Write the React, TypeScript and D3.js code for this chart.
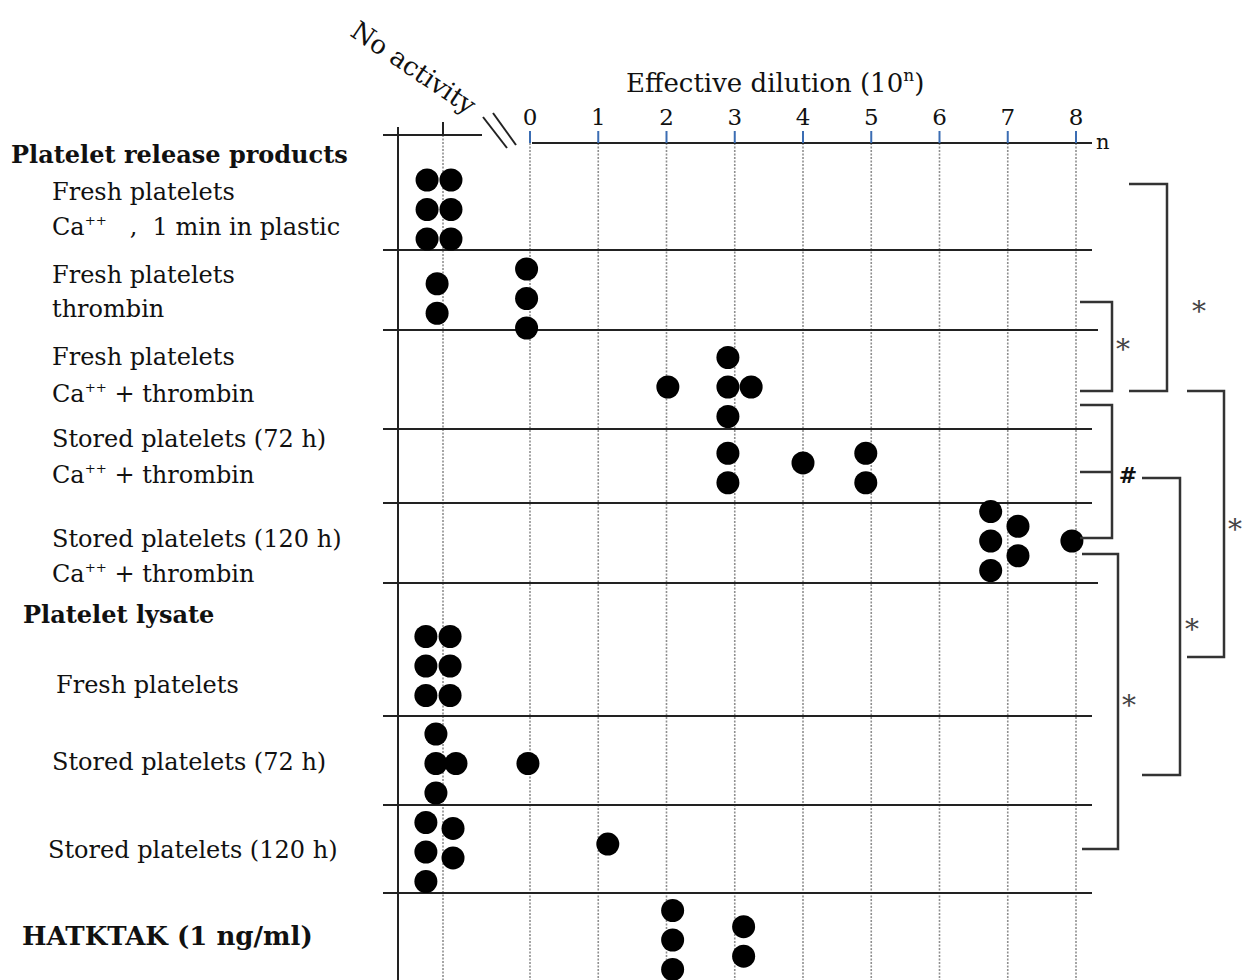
import React from "react";
import * as d3 from "d3";

// ---------- DATA ----------
const groupLabels = ["Platelet release products", "Platelet lysate", "HATKTAK (1 ng/ml)"];

const rowLabels: string[][] = [
  ["Fresh platelets", "Ca^++   ,  1 min in plastic"],
  ["Fresh platelets", "thrombin"],
  ["Fresh platelets", "Ca^++ + thrombin"],
  ["Stored platelets (72 h)", "Ca^++ + thrombin"],
  ["Stored platelets (120 h)", "Ca^++ + thrombin"],
  ["Fresh platelets"],
  ["Stored platelets (72 h)"],
  ["Stored platelets (120 h)"],
];

const tickValues = [0, 1, 2, 3, 4, 5, 6, 7, 8];

// No-activity dots: [row, horizontal jitter (dot pitches), vertical level]
const noActivityDots: [number, number, number][] = [
  [0, -0.54, -1], [0, -0.54, 0], [0, -0.54, 1],
  [0, 0.27, -1], [0, 0.27, 0], [0, 0.27, 1],
  [1, -0.2, -0.5], [1, -0.2, 0.5],
  [5, -0.58, -1], [5, -0.58, 0], [5, -0.58, 1],
  [5, 0.24, -1], [5, 0.24, 0], [5, 0.24, 1],
  [6, -0.24, -1], [6, -0.24, 0], [6, -0.24, 1], [6, 0.44, 0],
  [7, -0.58, -1], [7, -0.58, 0], [7, -0.58, 1],
  [7, 0.34, -0.8], [7, 0.34, 0.2],
];

// Effective dilution dots: [row, n (log10 dilution), vertical level]
const dilutionDots: [number, number, number][] = [
  [1, -0.05, -1], [1, -0.05, 0], [1, -0.05, 1],
  [2, 2.02, 0], [2, 2.9, -1], [2, 2.9, 0], [2, 2.9, 1], [2, 3.24, 0],
  [3, 2.9, -0.5], [3, 2.9, 0.5], [3, 4.0, -0.17], [3, 4.92, -0.5], [3, 4.92, 0.5],
  [4, 6.75, -1], [4, 6.75, 0], [4, 6.75, 1], [4, 7.15, -0.5], [4, 7.15, 0.5], [4, 7.94, 0],
  [6, -0.03, 0],
  [7, 1.14, -0.27],
  [8, 2.09, -1], [8, 2.09, 0], [8, 2.09, 1], [8, 3.13, -0.45], [8, 3.13, 0.55],
];

// Significance brackets: label
const bracketLabels = ["*", "*", "*", "#", "*", "*"];

// ---------- LAYOUT ----------
const W = 1244;
const H = 980;
const rowCenters = [209.5, 298.5, 387, 468, 541, 666, 763.5, 852, 940];
const separators = [
  { y: 250, x2: 1092 }, { y: 330, x2: 1098 }, { y: 429, x2: 1092 }, { y: 503, x2: 1092 },
  { y: 583, x2: 1098 }, { y: 716, x2: 1092 }, { y: 805, x2: 1092 }, { y: 893, x2: 1092 },
];
const rowLabelLayout = [
  { x: 52, ys: [200, 235] }, { x: 52, ys: [283, 317] }, { x: 52, ys: [365, 402] },
  { x: 52, ys: [447, 483] }, { x: 52, ys: [547, 582] }, { x: 56, ys: [693] },
  { x: 52, ys: [770] }, { x: 48, ys: [858] },
];
const groupLayout = [
  { x: 11, y: 163, size: 24 },
  { x: 23, y: 623, size: 24 },
  { x: 22, y: 945, size: 26 },
];
const bracketLayout = [
  { x0: 1129, x1: 1167, y0: 184, y1: 391, lx: 1199, ly: 304 },
  { x0: 1080, x1: 1112, y0: 302, y1: 391, lx: 1123, ly: 342 },
  { x0: 1187, x1: 1224, y0: 391, y1: 657, lx: 1235, ly: 522 },
  { x0: 1080, x1: 1112, y0: 405, y1: 538, lx: 1128, ly: 475, mid: 472 },
  { x0: 1142, x1: 1180, y0: 478, y1: 775, lx: 1192, ly: 622 },
  { x0: 1082, x1: 1118, y0: 554, y1: 849, lx: 1129, ly: 698 },
];

const FONT = "'DejaVu Serif', 'Liberation Serif', serif";
const axisY = 143;
const naAxisY = 135;
const naX = 443;
const pitch = 29.5;
const dotR = 11.5;

const x = d3.scaleLinear().domain([0, 8]).range([530, 1076]);
const xNA = d3.scaleLinear().domain([-1, 1]).range([naX - pitch, naX + pitch]);
const yLevel = d3.scaleLinear().domain([-1, 1]).range([-pitch, pitch]);

function RichText({ s, x, y, size, bold }: { s: string; x: number; y: number; size: number; bold?: boolean }) {
  const parts = s.split("^++");
  return (
    <text
      x={x}
      y={y}
      fontFamily={FONT}
      fontSize={size}
      fontWeight={bold ? "bold" : "normal"}
      fill="#111"
      style={{ whiteSpace: "pre" }}
    >
      {parts.map((p, i) => (
        <React.Fragment key={i}>
          {i > 0 && (
            <tspan dy={-10} fontSize={size * 0.55}>++</tspan>
          )}
          {i > 0 ? <tspan dy={10}>{p}</tspan> : p}
        </React.Fragment>
      ))}
    </text>
  );
}

export default function App() {
  return (
    <svg width={W} height={H} style={{ position: "absolute", left: 0, top: 0, background: "#fff" }}>
      <rect width={W} height={H} fill="#fff" />
      {/* Dotted gridlines */}
      {tickValues.map((t) => (
        <line key={"g" + t} x1={x(t)} x2={x(t)} y1={axisY} y2={H} stroke="#8f8f8f" strokeWidth={1.6} strokeDasharray="2,1.5" />
      ))}
      <line x1={naX} x2={naX} y1={naAxisY} y2={H} stroke="#8f8f8f" strokeWidth={1.6} strokeDasharray="2,1.5" />

      {/* Row separators */}
      {separators.map((s, i) => (
        <line key={"s" + i} x1={383} x2={s.x2} y1={s.y} y2={s.y} stroke="#222" strokeWidth={2} />
      ))}

      {/* No activity axis */}
      <line x1={383} x2={482} y1={naAxisY} y2={naAxisY} stroke="#222" strokeWidth={2} />
      <line x1={naX} x2={naX} y1={122} y2={naAxisY} stroke="#222" strokeWidth={2} />
      <line x1={398} x2={398} y1={127} y2={H} stroke="#222" strokeWidth={2} />
      <line x1={483} y1={117} x2={507} y2={148} stroke="#222" strokeWidth={2} />
      <line x1={493} y1={113} x2={516} y2={145} stroke="#222" strokeWidth={2} />
      <text transform={`translate(349,35) rotate(34)`} fontFamily={FONT} fontSize={26} fill="#111">No activity</text>

      {/* Main axis */}
      <line x1={x(0) + 2} x2={1092} y1={axisY} y2={axisY} stroke="#222" strokeWidth={2} />
      {tickValues.map((t) => (
        <g key={"t" + t}>
          <line x1={x(t)} x2={x(t)} y1={131} y2={axisY} stroke="#3b6db3" strokeWidth={2} />
          <text x={x(t)} y={125} textAnchor="middle" fontFamily={FONT} fontSize={23} fill="#111">{t}</text>
        </g>
      ))}
      <text x={1096} y={149} fontFamily={FONT} fontSize={21} fill="#111">n</text>
      <text x={626} y={92} fontFamily={FONT} fontSize={26} fill="#111">
        Effective dilution (10<tspan dy={-11} fontSize={17}>n</tspan><tspan dy={11}>)</tspan>
      </text>

      {/* Labels */}
      {groupLabels.map((g, i) => (
        <RichText key={"gl" + i} s={g} x={groupLayout[i].x} y={groupLayout[i].y} size={groupLayout[i].size} bold />
      ))}
      {rowLabels.map((lines, i) =>
        lines.map((l, j) => (
          <RichText key={"rl" + i + "-" + j} s={l} x={rowLabelLayout[i].x} y={rowLabelLayout[i].ys[j]} size={24} />
        ))
      )}

      {/* Dots */}
      {noActivityDots.map(([r, dx, lv], i) => (
        <circle key={"na" + i} cx={xNA(dx)} cy={rowCenters[r] + yLevel(lv)} r={dotR} fill="#000" />
      ))}
      {dilutionDots.map(([r, n, lv], i) => (
        <circle key={"d" + i} cx={x(n)} cy={rowCenters[r] + yLevel(lv)} r={dotR} fill="#000" />
      ))}

      {/* Brackets */}
      {bracketLayout.map((b, i) => (
        <g key={"b" + i} fill="none" stroke="#333" strokeWidth={2.5}>
          <path d={`M${b.x0},${b.y0}H${b.x1}V${b.y1}H${b.x0}`} />
          {b.mid !== undefined && <line x1={b.x0} x2={b.x1} y1={b.mid} y2={b.mid} />}
          <text
            x={b.lx}
            y={bracketLabels[i] === "#" ? b.ly + 8 : b.ly + 17}
            textAnchor="middle"
            fontFamily={FONT}
            fontSize={bracketLabels[i] === "#" ? 22 : 28}
            fontWeight={bracketLabels[i] === "#" ? "bold" : "normal"}
            fill={bracketLabels[i] === "#" ? "#111" : "#444"}
            stroke="none"
          >
            {bracketLabels[i]}
          </text>
        </g>
      ))}
    </svg>
  );
}
